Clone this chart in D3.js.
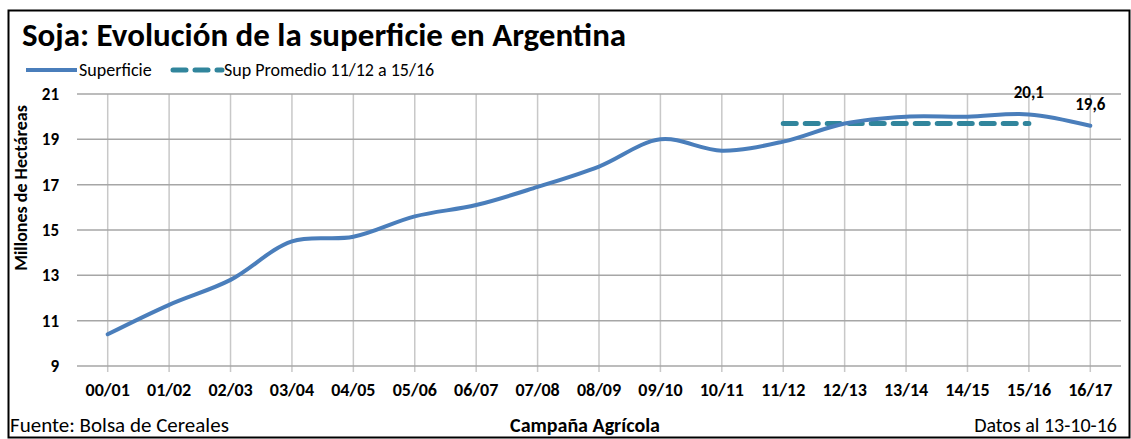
<!DOCTYPE html>
<html>
<head>
    <script src="https://d3js.org/d3.v7.min.js"></script>
    <style>
        body { margin: 0; background: #fff; }
        text { font-family: Carlito, "Liberation Sans", Arial, sans-serif; fill: #000; }
        .grid-h line { stroke: #a6a6a6; stroke-width: 1.5px; }
        .grid-v line { stroke: #c8c8c8; stroke-width: 1.5px; }
        .domain { display: none; }
    </style>
</head>
<body>
    <div id="chart"></div>
    <script>
        // Data
        const campaigns = ["00/01", "01/02", "02/03", "03/04", "04/05", "05/06", "06/07", "07/08", "08/09",
            "09/10", "10/11", "11/12", "12/13", "13/14", "14/15", "15/16", "16/17"];
        const superficie = [10.4, 11.7, 12.8, 14.5, 14.7, 15.6, 16.1, 16.9, 17.8, 19.0, 18.5, 18.9, 19.7, 20.0, 20.0, 20.1, 19.6];
        const promedioCampaigns = ["11/12", "12/13", "13/14", "14/15", "15/16"];
        const promedio = 19.7;
        const yTicks = [9, 11, 13, 15, 17, 19, 21];
        const labelled = ["15/16", "16/17"];

        const width = 1131, height = 439;
        const margin = { left: 77, right: 10, top: 94, bottom: 73 };
        const font = 'Carlito, "Liberation Sans", Arial, sans-serif';

        const svg = d3.select('#chart').append('svg')
            .attr('width', width)
            .attr('height', height);

        // outer frame
        svg.append('rect')
            .attr('x', 8.5).attr('y', 10.5)
            .attr('width', width - 10).attr('height', height - 12)
            .attr('fill', 'none').attr('stroke', '#000').attr('stroke-width', 2);

        const x = d3.scaleBand()
            .domain(campaigns)
            .range([margin.left, width - margin.right]);
        const cx = d => x(d) + x.bandwidth() / 2;

        const y = d3.scaleLinear()
            .domain([9, 21])
            .range([height - margin.bottom, margin.top]);

        // vertical grid
        svg.append('g')
            .attr('class', 'grid-v')
            .selectAll('line')
            .data(campaigns)
            .enter().append('line')
            .attr('x1', cx).attr('x2', cx)
            .attr('y1', y(21)).attr('y2', y(9) + 6);

        // horizontal grid
        svg.append('g')
            .attr('class', 'grid-h')
            .selectAll('line')
            .data(yTicks)
            .enter().append('line')
            .attr('x1', margin.left).attr('x2', width - margin.right)
            .attr('y1', d => y(d)).attr('y2', d => y(d));

        // y axis labels
        svg.append('g')
            .attr('transform', `translate(${margin.left},0)`)
            .call(d3.axisLeft(y).tickValues(yTicks).tickSize(0).tickPadding(18))
            .selectAll('text')
            .style('font-size', '17px').style('font-weight', 'bold')
            .style('font-family', font);

        // x axis labels
        svg.append('g')
            .attr('transform', `translate(0,${y(9)})`)
            .call(d3.axisBottom(x).tickSize(0).tickPadding(14))
            .selectAll('text')
            .attr('y', 30).attr('dy', 0)
            .style('font-size', '18px').style('font-weight', 'bold')
            .style('font-family', font);

        // average line
        svg.append('path')
            .datum(promedioCampaigns)
            .attr('fill', 'none')
            .attr('stroke', '#31859c')
            .attr('stroke-width', 5)
            .attr('stroke-linecap', 'round')
            .attr('stroke-dasharray', '13,9')
            .attr('d', d3.line().x(cx).y(() => y(promedio)));

        // superficie line
        const series = campaigns.map((c, i) => ({ c, v: superficie[i] }));
        svg.append('path')
            .datum(series)
            .attr('fill', 'none')
            .attr('stroke', '#4a7ebb')
            .attr('stroke-width', 4)
            .attr('stroke-linecap', 'round')
            .attr('d', d3.line().x(d => cx(d.c)).y(d => y(d.v)).curve(d3.curveCatmullRom.alpha(0.5)));

        // data labels
        svg.selectAll('.dlabel')
            .data(series.filter(d => labelled.includes(d.c)))
            .enter().append('text')
            .attr('x', d => cx(d.c))
            .attr('y', d => y(d.v) - 16)
            .attr('text-anchor', 'middle')
            .style('font-size', '17px').style('font-weight', 'bold')
            .text(d => d.v.toFixed(1).replace('.', ','));

        // title
        svg.append('text')
            .attr('x', 22).attr('y', 46)
            .style('font-size', '33px').style('font-weight', 'bold')
            .text('Soja: Evolución de la superficie en Argentina');

        // legend
        const legend = svg.append('g').attr('transform', 'translate(0,70)');
        legend.append('line').attr('x1', 26).attr('x2', 77).attr('stroke', '#4a7ebb').attr('stroke-width', 4);
        legend.append('text').attr('x', 79).attr('y', 6).style('font-size', '18px').text('Superficie');
        legend.append('line').attr('x1', 173).attr('x2', 222).attr('stroke', '#31859c').attr('stroke-width', 5)
            .attr('stroke-linecap', 'round').attr('stroke-dasharray', '13,9');
        legend.append('text').attr('x', 224).attr('y', 6).style('font-size', '18px').text('Sup Promedio 11/12 a 15/16');

        // y axis title
        svg.append('text')
            .attr('transform', 'translate(27,188) rotate(-90)')
            .attr('text-anchor', 'middle')
            .style('font-size', '18px').style('font-weight', 'bold')
            .text('Millones  de Hectáreas');

        // footer
        svg.append('text').attr('x', 10).attr('y', 432).style('font-size', '21px').text('Fuente: Bolsa de Cereales');
        svg.append('text').attr('x', 585).attr('y', 432).attr('text-anchor', 'middle')
            .style('font-size', '20px').style('font-weight', 'bold').text('Campaña Agrícola');
        svg.append('text').attr('x', 1117).attr('y', 432).attr('text-anchor', 'end')
            .style('font-size', '20px').text('Datos al 13-10-16');
    </script>
</body>
</html>
